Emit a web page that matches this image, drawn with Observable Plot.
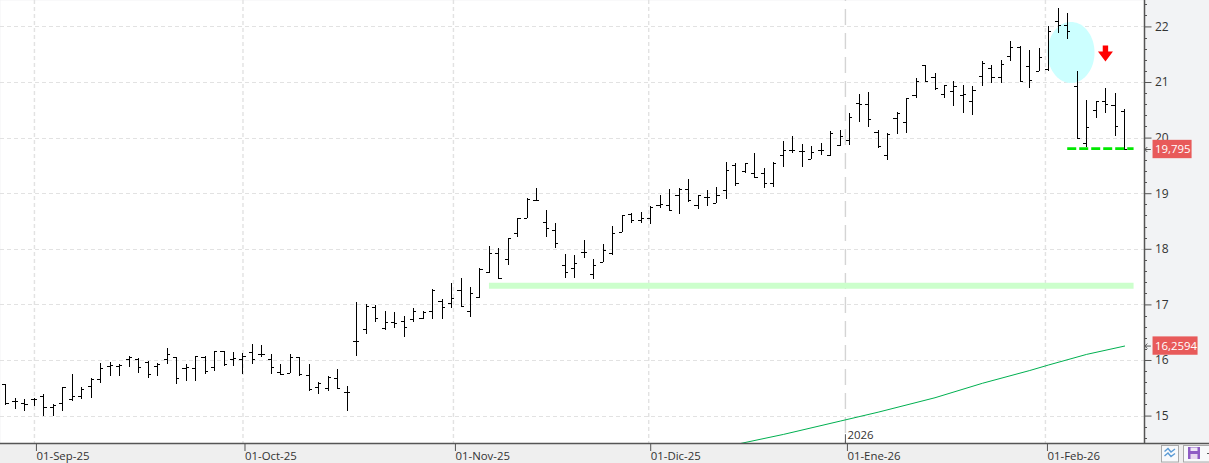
<!DOCTYPE html>
<html><head><meta charset="utf-8">
<style>
html,body{margin:0;padding:0;width:1209px;height:463px;overflow:hidden;background:linear-gradient(#f2f3f5,#f2f3f5) 0 0/100% 443px no-repeat,#efefef}
#chart{position:absolute;left:0;top:0}
#icons{position:absolute;left:1161px;top:445px;width:48px;height:18px}
</style>
<script src="https://cdn.jsdelivr.net/npm/d3@7"></script>
<script src="https://cdn.jsdelivr.net/npm/@observablehq/plot@0.6"></script>
</head><body>
<div id="chart"></div>
<svg id="icons" viewBox="0 0 48 18" width="48" height="18">
<rect x="0.5" y="0.5" width="17" height="16.5" fill="#f8f9fb" stroke="#aaa"/>
<path d="M3.5 6.5L7 3.5L10 7L14 4M3.5 11L7 8L10 11.5L14 8.5" fill="none" stroke="#5b9bd5" stroke-width="1.4"/>
<rect x="22.5" y="0.5" width="26" height="16.5" fill="#f8f9fb" stroke="#aaa"/>
<path d="M27 2h12v12h-12z" fill="#8e5cc4"/><rect x="29.5" y="2.5" width="7" height="3.5" fill="#f0e8f8"/><rect x="29.5" y="9" width="7" height="5" fill="#e8d8f0"/>
<rect x="46" y="8" width="2" height="1" fill="#555"/>
</svg>
<script>
const opens=[15.56,15.26,15.22,15.29,15.35,15.15,15.23,15.30,15.35,15.54,15.66,15.89,15.90,16.01,16.01,15.97,15.90,16.01,16.05,15.86,15.85,16.05,15.87,16.16,16.01,16.01,16.15,16.10,16.01,15.79,15.77,16.05,15.73,15.51,15.49,15.68,15.42,16.34,16.56,16.96,16.58,16.69,16.71,16.73,16.76,16.89,17.07,17.03,17.25,16.88,17.14,17.58,17.93,17.81,18.28,18.56,18.87,18.49,18.33,17.71,17.66,17.95,17.54,17.77,17.93,18.31,18.62,18.52,18.56,18.78,18.79,18.96,19.08,18.79,18.93,18.83,19.06,19.50,19.40,19.36,19.36,19.18,19.69,19.77,19.76,19.62,19.78,19.68,19.86,19.95,20.62,20.61,20.10,19.68,20.36,20.28,20.76,21.31,21.09,20.78,20.83,20.77,20.66,21.11,21.25,21.09,21.47,21.63,21.29,21.20,21.23,22.10,22.03,20.93,19.90,20.50,20.65,20.59,20.48];
const highs=[15.56,15.32,15.29,15.31,15.39,15.21,15.52,15.74,15.51,15.67,15.95,15.96,15.93,16.07,16.03,15.98,15.95,16.22,16.06,15.93,16.07,16.07,16.17,16.17,16.15,16.12,16.29,16.27,16.10,15.93,16.11,16.06,15.93,15.60,15.71,15.84,15.54,17.05,17.00,16.99,16.88,16.86,16.79,16.93,16.89,17.27,17.09,17.38,17.47,17.31,17.65,18.05,18.01,18.20,18.56,18.91,19.09,18.70,18.46,17.90,17.89,18.16,17.81,18.08,18.41,18.61,18.64,18.66,18.77,18.97,19.07,19.09,19.25,18.96,19.06,19.12,19.56,19.55,19.55,19.72,19.45,19.56,19.93,20.02,19.88,19.84,19.90,20.11,20.13,20.44,20.78,20.82,20.14,20.08,20.46,20.71,21.07,21.31,21.16,20.95,21.02,20.95,20.93,21.37,21.31,21.40,21.74,21.64,21.58,21.61,22.00,22.33,22.25,21.20,20.68,20.65,20.89,20.80,20.51];
const lows=[15.19,15.12,15.08,15.18,15.00,14.99,15.09,15.26,15.30,15.31,15.58,15.71,15.72,15.87,15.76,15.68,15.72,15.92,15.56,15.62,15.63,15.74,15.81,15.90,15.89,15.74,15.92,16.05,15.74,15.74,15.76,15.72,15.45,15.38,15.44,15.50,15.09,16.08,16.46,16.68,16.54,16.58,16.42,16.68,16.73,16.73,16.73,16.94,16.97,16.78,17.12,17.57,17.46,17.71,18.21,18.56,18.86,18.21,18.01,17.47,17.47,17.83,17.45,17.77,17.89,18.31,18.47,18.47,18.45,18.73,18.68,18.63,18.85,18.72,18.77,18.82,18.90,19.13,19.36,19.29,19.09,19.12,19.47,19.72,19.47,19.62,19.68,19.67,19.85,19.87,20.28,20.19,19.81,19.60,20.07,20.09,20.72,21.01,20.85,20.71,20.56,20.45,20.40,20.92,20.99,20.99,21.37,21.01,20.90,21.19,21.19,21.89,21.78,19.99,19.83,20.35,20.44,20.02,19.78];
const closes=[15.23,15.26,15.20,15.30,15.16,15.19,15.51,15.35,15.48,15.65,15.85,15.91,15.91,16.05,15.87,15.75,15.92,16.11,15.68,15.87,16.07,15.80,16.16,15.92,16.03,16.07,16.02,16.10,15.88,15.74,16.06,15.75,15.48,15.58,15.70,15.50,15.42,16.34,16.98,16.75,16.69,16.66,16.59,16.89,16.87,17.26,16.96,17.11,16.98,17.21,17.64,17.93,17.47,18.20,18.55,18.90,18.87,18.38,18.11,17.59,17.75,17.95,17.70,17.98,18.28,18.60,18.52,18.55,18.76,18.81,18.69,19.08,18.87,18.96,18.93,18.97,19.42,19.18,19.54,19.30,19.18,19.55,19.77,19.77,19.76,19.75,19.78,20.09,20.03,20.37,20.61,20.34,19.84,20.07,20.45,20.71,21.02,21.02,20.90,20.94,20.93,20.78,20.85,21.34,21.09,21.32,21.63,21.02,21.04,21.45,21.92,22.03,21.92,19.99,20.19,20.65,20.60,20.21,19.795];
const maIndex=[77,82,88,92,98,103,108,110,114,118];
const maValues=[14.49,14.67,14.91,15.07,15.33,15.59,15.82,15.92,16.11,16.2594];
const dateTicks=[3,25,47.2,67.8,88.55,109.65];
const dateLabels=["01-Sep-25","01-Oct-25","01-Nov-25","01-Dic-25","01-Ene-26","01-Feb-26"];
const priceTicks=[15,16,17,18,19,20,21,22];
const minorTicks=d3.range(14.6,22.5,0.2).filter(v=>Math.abs(v-Math.round(v))>0.01);
const supportLevel=17.345, supportStart=51.0, supportEnd=119;
const lowLevel=19.81, lowStart=112, lowEnd=119;
const priceTags=[{i:118,v:19.795,t:"19,795",w:4.12},{i:118,v:16.2594,t:"16,2594",w:4.75}];
const yearLabel="2026";

const xMin=-0.58,xMax=120.1,xPanel=127,yMin=14.507,yMax=22.475;
const idx=opens.map((_,i)=>i);
const ellipse=d3.range(0,Math.PI+0.01,Math.PI/40).map(a=>({x:112.4+2.48*Math.cos(a),y1:21.53-0.549*Math.sin(a),y2:21.53+0.549*Math.sin(a)}));
const arrow={draw(c,size){const k=Math.sqrt(size/Math.PI)/8;
  c.moveTo(-2.7*k,-8*k);c.lineTo(2.7*k,-8*k);c.lineTo(2.7*k,-2*k);c.lineTo(7.5*k,-2*k);c.lineTo(0,8*k);c.lineTo(-7.5*k,-2*k);c.lineTo(-2.7*k,-2*k);c.closePath();}};
const pointer={draw(c,size){const k=Math.sqrt(size/Math.PI)/3;
  c.moveTo(3*k,0);c.lineTo(-3*k,0);c.moveTo(-0.5*k,-2.5*k);c.lineTo(-3*k,0);c.lineTo(-0.5*k,2.5*k);}};
const dash="4,3";
const grid="#e2e2e2";
const fontFam='"Open Sans","Noto Sans",sans-serif';
const chart=Plot.plot({
  width:1209,height:463,marginLeft:0,marginRight:65,marginTop:0,marginBottom:20,
  style:{background:"transparent",fontFamily:fontFam,fontSize:"11.4px",color:"#333"},
  x:{type:"linear",domain:[xMin,xMax],label:null},
  y:{type:"linear",domain:[yMin,yMax],label:null},
  marks:[
    Plot.frame({fill:"white",stroke:null}),
    Plot.ruleY(priceTicks,{stroke:grid,strokeDasharray:dash,shapeRendering:"crispEdges"}),
    Plot.ruleX(dateTicks.filter((_,i)=>i!==4),{stroke:grid,strokeDasharray:dash,strokeWidth:1.4}),
    Plot.ruleX([dateTicks[4]],{stroke:"#d4d4d4",strokeWidth:1.4,strokeDasharray:"16,8",strokeDashoffset:15}),
    Plot.areaY(ellipse,{x:"x",y1:"y1",y2:"y2",fill:"#ccffff",curve:"linear"}),
    Plot.ruleY([supportLevel],{x1:supportStart,x2:supportEnd,stroke:"#ccffcc",strokeWidth:6}),
    Plot.line(maIndex,{x:d=>d,y:(d,i)=>maValues[i],stroke:"#00b050",strokeWidth:1,clip:"frame"}),
    Plot.ruleX(idx,{x:d=>d,y1:d=>lows[d],y2:d=>highs[d],stroke:"#000",strokeWidth:1,shapeRendering:"crispEdges"}),
    Plot.ruleY(idx,{y:d=>opens[d],x1:d=>d-0.33,x2:d=>d,stroke:"#000",strokeWidth:1,shapeRendering:"crispEdges"}),
    Plot.ruleY(idx,{y:d=>closes[d],x1:d=>d,x2:d=>d+0.33,stroke:"#000",strokeWidth:1,shapeRendering:"crispEdges"}),
    Plot.ruleY([lowLevel],{x1:lowStart,x2:lowEnd,stroke:"#00e800",strokeWidth:2.6,strokeDasharray:"9,3"}),
    Plot.dot([0],{x:()=>115.98,y:()=>21.52,r:8,symbol:arrow,fill:"#ff0000",stroke:null}),
    Plot.text([yearLabel],{x:()=>dateTicks[4],y:()=>14.655,text:d=>d,dx:2,textAnchor:"start",fill:"#333",fontSize:11.4}),
    Plot.ruleX([dateTicks[4]],{y1:14.665,y2:yMin,stroke:"#555",strokeWidth:1}),
    Plot.ruleY(minorTicks,{x1:xMax,x2:xMax+0.35,stroke:"#555",strokeWidth:1,shapeRendering:"crispEdges"}),
    Plot.axisY({anchor:"right",ticks:priceTicks,tickSize:6.5,tickPadding:4,tickFormat:d=>String(d),stroke:"#555",fill:"#333",fontSize:12,label:null}),
    Plot.axisX({anchor:"bottom",ticks:dateTicks,tickSize:8,tickPadding:0,tickFormat:d=>dateLabels[dateTicks.indexOf(d)],textAnchor:"start",dx:2,stroke:"#555",fill:"#333",fontSize:11.4,label:null}),
    Plot.ruleX([xMax],{stroke:"#555",strokeWidth:1.5}),
    Plot.ruleY([yMin],{x1:xMin,x2:xPanel+1,stroke:"#555",strokeWidth:1.5}),
    Plot.rect(priceTags,{x1:()=>121,x2:d=>121+d.w,y1:d=>d.v-0.165,y2:d=>d.v+0.165,fill:"#e85a5a"}),
    Plot.text(priceTags,{x:()=>121,y:"v",text:"t",dx:2,textAnchor:"start",fill:"#fff",fontSize:11.4}),
    Plot.dot(priceTags,{x:()=>120.45,y:"v",r:3,symbol:pointer,stroke:"#555",strokeWidth:1,fill:"none"})
  ]
});
document.getElementById("chart").append(chart);
</script>
</body></html>
